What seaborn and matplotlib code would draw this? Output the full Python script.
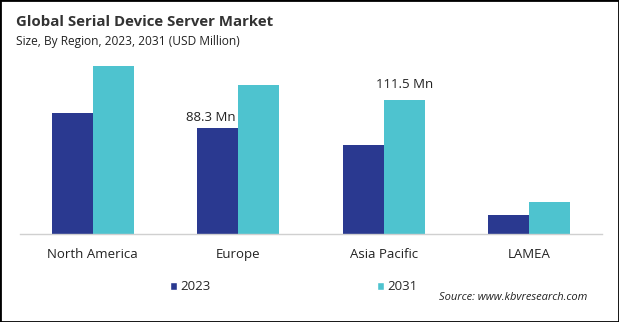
import matplotlib
matplotlib.use("Agg")
import matplotlib.pyplot as plt
import seaborn as sns
import pandas as pd
from matplotlib.patches import Patch, Rectangle

regions = ["North America", "Europe", "Asia Pacific", "LAMEA"]
years = ["2023", "2031"]
values_2023 = [101.1, 88.3, 74.4, 16.1]
values_2031 = [140.3, 124.4, 111.5, 26.9]
labels = {("Europe", "2023"): "88.3 Mn", ("Asia Pacific", "2031"): "111.5 Mn"}
label_offsets = {("Europe", "2023"): (-7, 4), ("Asia Pacific", "2031"): (0, 9)}

colors = ["#2A3990", "#4EC3CF"]

df = pd.DataFrame({
    "Region": regions * 2,
    "Year": [years[0]] * 4 + [years[1]] * 4,
    "Value": values_2023 + values_2031,
})

sns.set_style("white")
plt.rcParams['font.family'] = ['Open Sans', 'DejaVu Sans']

fig = plt.figure(figsize=(6.19, 3.22), dpi=100)
ax = fig.add_axes([20/619, (322-234)/322, (602-20)/619, 180/322])
sns.barplot(data=df, x="Region", y="Value", hue="Year", palette=colors,
            width=0.565, saturation=1, linewidth=0, ax=ax, legend=False)
ax.set_xlim(-0.5, 3.5)
ax.set_ylim(0, 150)
ax.set_xlabel("")
ax.set_ylabel("")
ax.set_yticks([])
for s in ["top", "right", "left"]:
    ax.spines[s].set_visible(False)
ax.spines["bottom"].set_color("#d0d0d0")
ax.spines["bottom"].set_linewidth(1)
ax.tick_params(axis="x", length=0, pad=10, labelsize=9.5, colors="#222222")

# annotations
for container, yr in zip(ax.containers, years):
    for bar, reg in zip(container, regions):
        if (reg, yr) in labels:
            dx, dy = label_offsets[(reg, yr)]
            ax.annotate(labels[(reg, yr)],
                        (bar.get_x() + bar.get_width()/2, bar.get_height()),
                        xytext=(dx * 0.72, dy * 0.72), textcoords="offset points",
                        ha="center", va="bottom", fontsize=9.5, color="#222222")

fig.text(16/619, 1 - 22/322, "Global Serial Device Server Market",
         fontsize=10.8, fontweight="bold", color="#333333", va="center")
fig.text(16/619, 1 - 42/322, "Size, By Region, 2023, 2031 (USD Million)",
         fontsize=8.6, color="#222222", va="center")

handles = [Patch(facecolor=c, label=y) for c, y in zip(colors, years)]
fig.legend(handles=handles, loc="center left", bbox_to_anchor=(170/619, 1 - 287/322),
           ncol=2, frameon=False, fontsize=9.5, handlelength=0.55, handleheight=0.6,
           handletextpad=0.25, columnspacing=12.6, borderaxespad=0, borderpad=0)

fig.text(587/619, 1 - 298/322, "Source: www.kbvresearch.com", fontsize=8,
         style="italic", color="#222222", ha="right", va="center")

fig.patches.append(Rectangle((0, 0), 1, 1, transform=fig.transFigure,
                             fill=False, edgecolor="black", linewidth=2))

fig.savefig("out.png", dpi=100, facecolor="white")
